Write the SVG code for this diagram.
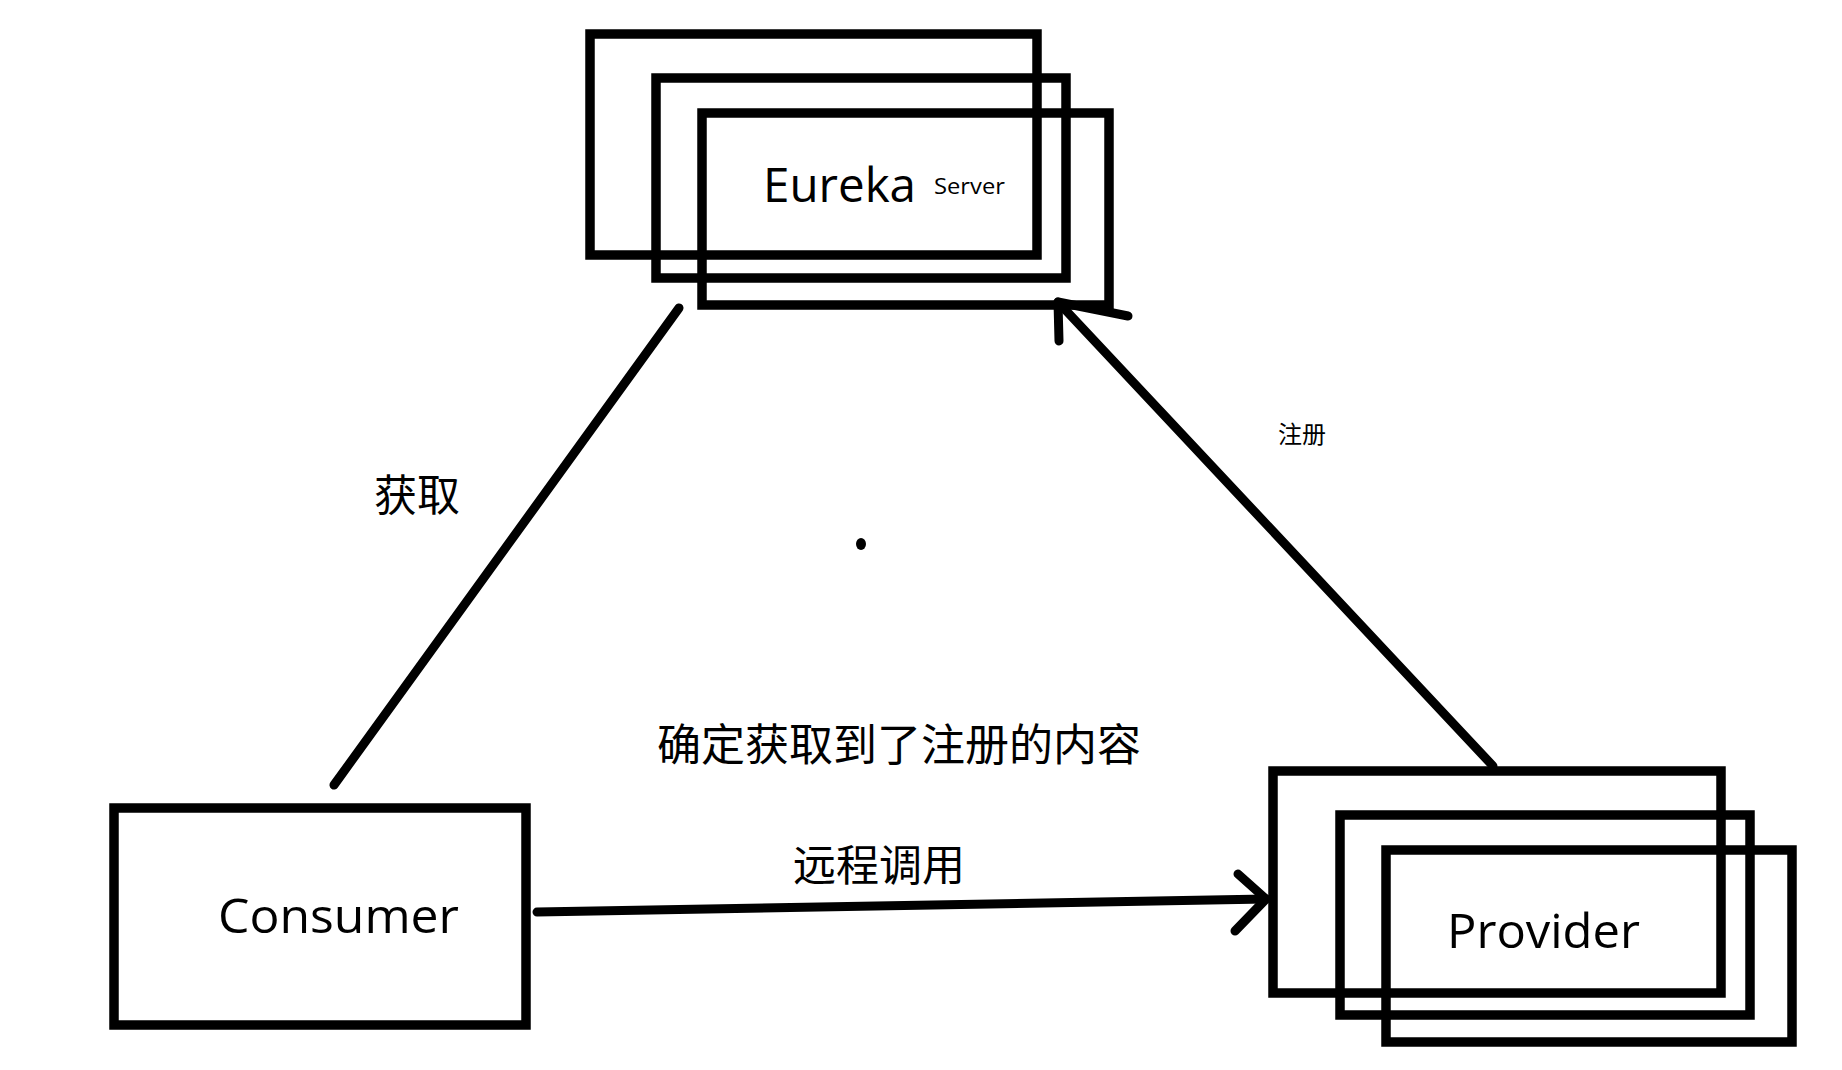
<svg xmlns="http://www.w3.org/2000/svg" width="1842" height="1070" viewBox="0 0 1842 1070">
  <style>
    .box { fill: none; stroke: #000; stroke-width: 9.5; }
    .line { fill: none; stroke: #000; stroke-width: 9; stroke-linecap: round; stroke-linejoin: round; }
    .lat { font-family: "Open Sans", "Noto Sans", sans-serif; fill: #000; }
    .cjk { font-family: "Noto Sans CJK SC", sans-serif; fill: #000; }
  </style>
  <rect width="1842" height="1070" fill="#fff"/>
  <g id="eureka">
    <rect class="box" x="590" y="34" width="447" height="221"/>
    <rect class="box" x="656" y="78" width="410" height="200"/>
    <rect class="box" x="702" y="113" width="407" height="192"/>
    <text class="lat" x="763" y="202" font-size="48" textLength="153" lengthAdjust="spacingAndGlyphs">Eureka</text>
    <text class="lat" x="934" y="194" font-size="21" textLength="71" lengthAdjust="spacingAndGlyphs">Server</text>
  </g>
  <g id="consumer">
    <rect class="box" x="114" y="808" width="412" height="217"/>
    <text class="lat" x="218" y="933" font-size="48" textLength="241" lengthAdjust="spacingAndGlyphs">Consumer</text>
  </g>
  <g id="provider">
    <rect class="box" x="1273" y="771" width="448" height="222"/>
    <rect class="box" x="1340" y="815" width="410" height="200"/>
    <rect class="box" x="1386" y="850" width="406" height="192"/>
    <text class="lat" x="1447" y="948" font-size="48" textLength="193" lengthAdjust="spacingAndGlyphs">Provider</text>
  </g>
  <g id="connectors">
    <line class="line" x1="334" y1="785" x2="679" y2="308"/>
    <path class="line" d="M1493 766 L1058 302"/>
    <path class="line" d="M1059 341 L1058 302 L1128 316"/>
    <path class="line" d="M537 912 L1266 899"/>
    <path class="line" d="M1238 874 L1266 899 L1235 931"/>
  </g>
  <g id="labels">
    <text class="cjk" x="374" y="511" font-size="43">获取</text>
    <text class="cjk" x="1278" y="443" font-size="24">注册</text>
    <text class="cjk" x="657" y="761" font-size="44">确定获取到了注册的内容</text>
    <text class="cjk" x="793" y="881" font-size="43">远程调用</text>
    <ellipse cx="861" cy="544" rx="5" ry="6" fill="#000"/>
  </g>
</svg>
